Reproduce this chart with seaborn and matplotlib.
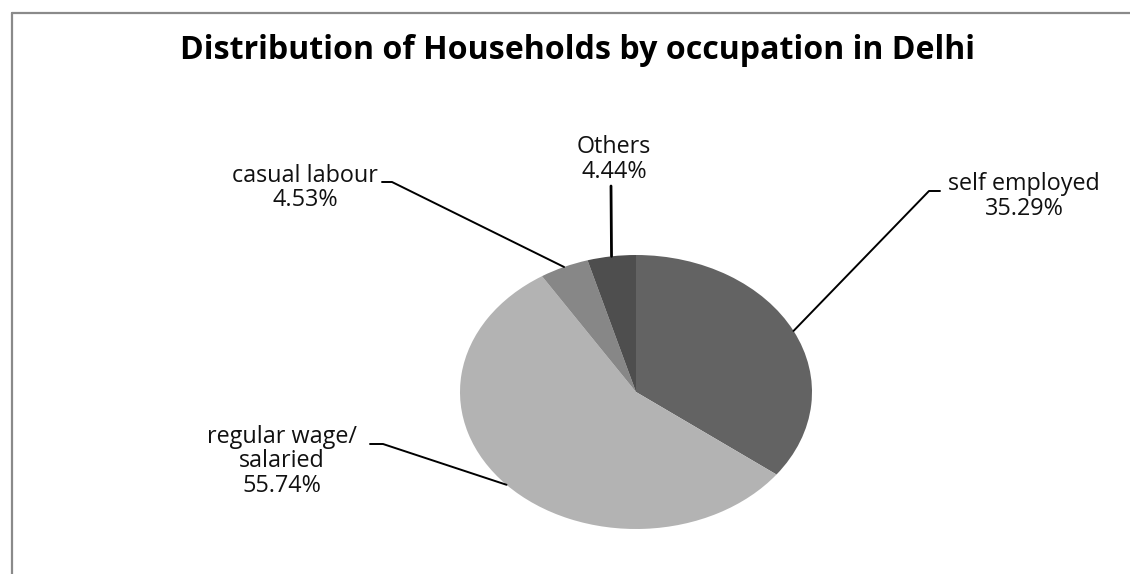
import matplotlib
matplotlib.use("Agg")
import matplotlib.pyplot as plt
import seaborn as sns
from matplotlib.lines import Line2D
import numpy as np

# ---- data ----
categories = ["self employed", "regular wage/\nsalaried", "casual labour", "Others"]
shares = [35.29, 55.74, 4.53, 4.44]
title = "Distribution of Households by occupation in Delhi"

# ---- style ----
sns.set_theme(style="white")
plt.rcParams['font.family'] = ['Open Sans', 'DejaVu Sans']
colors = ["#636363", "#b3b3b3", "#878787", "#4e4e4e"]

W, H = 1130, 574
fig = plt.figure(figsize=(W / 100, H / 100), dpi=100)
fig.patch.set_facecolor("white")

# pie bounding box in pixels (top-left origin)
L, R, T, B = 460, 812, 255, 529
ax = fig.add_axes([L / W, 1 - B / H, (R - L) / W, (B - T) / H])
wedges, _ = ax.pie(shares, colors=colors, startangle=90, counterclock=False,
                   radius=1, wedgeprops=dict(linewidth=0))
ax.set_aspect('auto')
ax.set_xlim(-1, 1)
ax.set_ylim(-1, 1)
ax.axis('off')


def fxy(px, py):
    """pixel (top-left origin) -> figure fraction"""
    return px / W, 1 - py / H


inv = fig.transFigure.inverted()

# ---- fit font sizes ----
renderer = fig.canvas.get_renderer()


def fit(text, target_px, weight="normal"):
    t = fig.text(0, 0, text, fontsize=10, fontweight=weight)
    w = t.get_window_extent(renderer).width
    t.remove()
    return 10 * target_px / w


lab_fs = fit("self employed", 152)
title_fs = fit(title, 797, "bold")

fig.text(*fxy(578, 59), title, fontsize=title_fs, fontweight="bold",
         ha="center", va="baseline", color="black")

# ---- labels & leader lines (layout in pixels) ----
layout = [
    dict(x=1024, baselines=[190, 215], leader=[(940, 191), (929, 191)]),
    dict(x=282, baselines=[443, 467, 492], leader=[(370, 444), (383, 444)]),
    dict(x=305, baselines=[182, 206], leader=[(382, 182), (392, 182)]),
    dict(x=614, baselines=[153, 178], leader=[(611, 186)]),
]

for w, cat, share, lay in zip(wedges, categories, shares, layout):
    lines = cat.split("\n") + [f"{share:.2f}%"]
    for line, by in zip(lines, lay["baselines"]):
        fig.text(*fxy(lay["x"], by), line, fontsize=lab_fs, ha="center",
                 va="baseline", color="#111111")
    mid = np.deg2rad((w.theta1 + w.theta2) / 2)
    disp = ax.transData.transform((np.cos(mid), np.sin(mid)))
    ex, ey = inv.transform(disp)
    pts = [fxy(*p) for p in lay["leader"]] + [(ex, ey)]
    xs, ys = zip(*pts)
    fig.add_artist(Line2D(xs, ys, transform=fig.transFigure, color="black",
                          lw=1.4 if len(pts) > 2 else 2.0))

# ---- frame lines ----
fig.add_artist(Line2D([12 / W, 12 / W], [0, 1 - 13 / H], transform=fig.transFigure,
                      color="#8a8a8a", lw=1.6))
fig.add_artist(Line2D([12 / W, 1], [1 - 13 / H, 1 - 13 / H], transform=fig.transFigure,
                      color="#8a8a8a", lw=1.6))

fig.savefig("out.png", dpi=100, facecolor="white")
